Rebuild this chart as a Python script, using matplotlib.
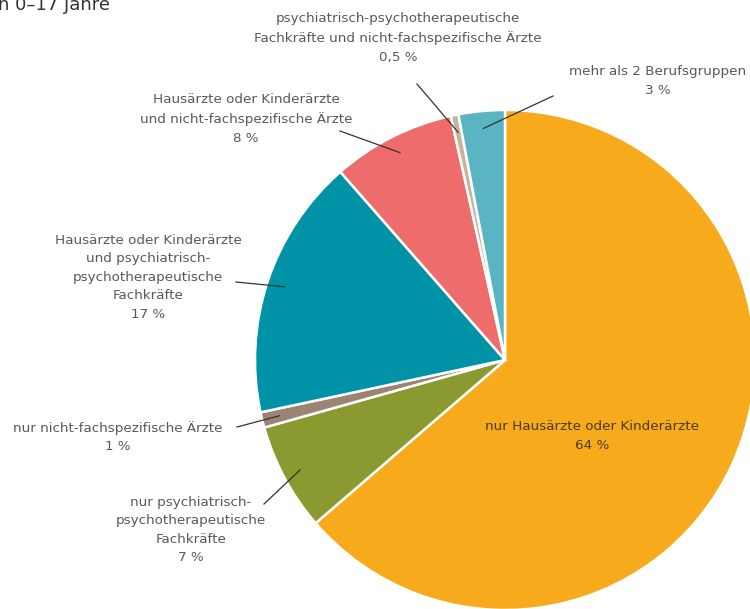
import matplotlib
matplotlib.use("Agg")
import matplotlib.pyplot as plt
import numpy as np

# ---- data ----
categories = [
    "nur Hausärzte oder Kinderärzte",
    "nur psychiatrisch-\npsychotherapeutische\nFachkräfte",
    "nur nicht-fachspezifische Ärzte",
    "Hausärzte oder Kinderärzte\nund psychiatrisch-\npsychotherapeutische\nFachkräfte",
    "Hausärzte oder Kinderärzte\nund nicht-fachspezifische Ärzte",
    "psychiatrisch-psychotherapeutische\nFachkräfte und nicht-fachspezifische Ärzte",
    "mehr als 2 Berufsgruppen",
]
values = [64, 7, 1, 17, 8, 0.5, 3]
value_labels = ["64 %", "7 %", "1 %", "17 %", "8 %", "0,5 %", "3 %"]
colors = ["#F7AA1C", "#8A9A30", "#9C8474", "#0093A7", "#EE6C6B", "#C6B59D", "#5BB4C2"]

# ---- layout (pixel coordinates, y from top) ----
W, H = 750, 609
center_px = (505, 360)
radius_px = 250
label_pos = [(592, 436), (191, 530), (118, 437), (148, 277), (246, 119), (398, 38), (658, 81)]
leader_start = [None, (264, 504), (237, 427), (236, 282), (340, 131), (417, 84), (553, 96)]

fig = plt.figure(figsize=(W / 100, H / 100), dpi=100)
ax = fig.add_axes([0, 0, 1, 1])

cx, cy = center_px[0], H - center_px[1]
wedges, _ = ax.pie(values, colors=colors, startangle=90, counterclock=False,
                   center=(cx, cy), radius=radius_px, frame=True,
                   wedgeprops=dict(edgecolor="white", linewidth=1.8))
ax.set_xlim(0, W)
ax.set_ylim(0, H)
ax.set_aspect("equal")
ax.axis("off")

fam = ["Liberation Sans Narrow", "DejaVu Sans"]
for i, (w, cat, vl) in enumerate(zip(wedges, categories, value_labels)):
    lx, ly = label_pos[i]
    color = "#4A3B12" if i == 0 else "#595959"
    ax.text(lx, H - ly, cat + "\n" + vl, ha="center", va="center",
            fontsize=9.7, color=color, family=fam, linespacing=1.55)
    if leader_start[i] is not None:
        ang = np.deg2rad((w.theta1 + w.theta2) / 2)
        ex = cx + 0.93 * radius_px * np.cos(ang)
        ey = cy + 0.93 * radius_px * np.sin(ang)
        sx, sy = leader_start[i]
        ax.plot([sx, ex], [H - sy, ey], color="#333333", lw=0.9)

ax.text(-2, H - 10, "n 0–17 Jahre", ha="left", va="baseline",
        fontsize=13, color="#333333", family=fam)

fig.savefig("out.png", dpi=100)
